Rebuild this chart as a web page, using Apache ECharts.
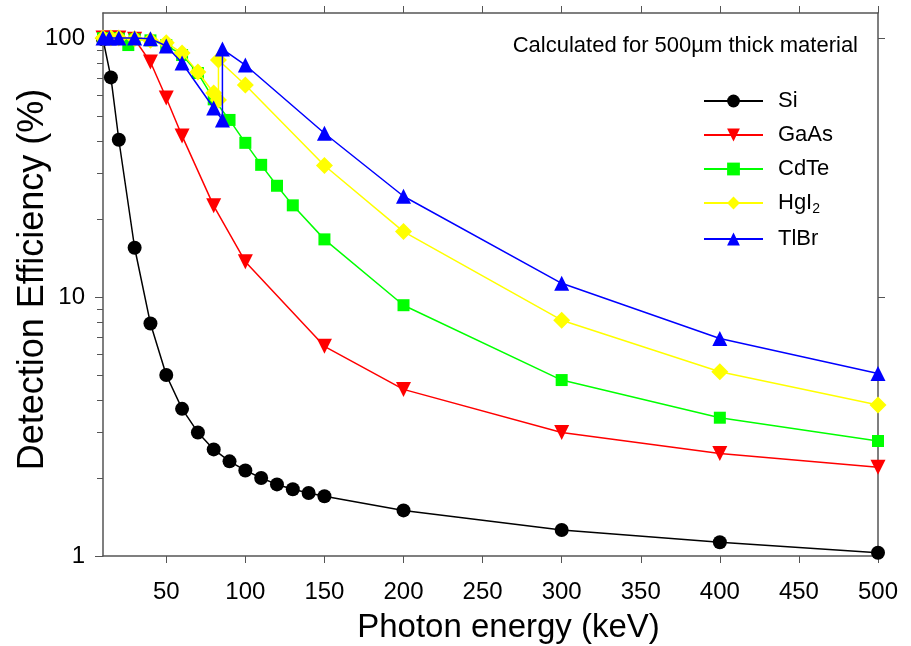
<!DOCTYPE html>
<html>
<head>
<meta charset="utf-8">
<script src="https://cdn.jsdelivr.net/npm/echarts@6/dist/echarts.min.js"></script>
<style>
  html, body { margin: 0; padding: 0; background: #ffffff; }
  #chart { width: 911px; height: 646px; }
</style>
</head>
<body>
<div id="chart"></div>
<script>
// ---- Data ----
const seriesNames = ['Si', 'GaAs', 'CdTe', 'HgI2', 'TlBr'];

const siX = [10, 15, 20, 30, 40, 50, 60, 70, 80, 90, 100, 110, 120, 130, 140, 150, 200, 300, 400, 500];
const siY = [99, 70.5, 40.5, 15.5, 7.9, 5.0, 3.7, 3.0, 2.58, 2.32, 2.14, 2.0, 1.89, 1.81, 1.75, 1.70, 1.50, 1.26, 1.13, 1.03];

const gaasX = [10, 15, 20, 30, 40, 50, 60, 80, 100, 150, 200, 300, 400, 500];
const gaasY = [100, 100, 100, 99, 80.8, 58.7, 41.9, 22.5, 13.7, 6.45, 4.40, 3.0, 2.49, 2.2];

const cdteX = [10, 15, 20, 26, 30, 40, 50, 60, 70, 80, 90, 100, 110, 120, 130, 150, 200, 300, 400, 500];
const cdteY = [100, 100, 99.5, 94, 99, 98, 94, 86, 73.3, 58, 48.3, 39.4, 32.4, 26.9, 22.6, 16.7, 9.3, 4.78, 3.42, 2.78];

const hgi2X = [10, 15, 20, 30, 40, 50, 60, 70, 80, 83, 83, 100, 150, 200, 300, 400, 500];
const hgi2Y = [100, 100, 100, 99.5, 98, 96, 87.5, 74, 61.4, 57.7, 82.3, 65.9, 32.2, 17.9, 8.14, 5.15, 3.83];

const tlbrX = [10, 14, 20, 30, 40, 50, 60, 80, 85.5, 85.5, 100, 150, 200, 300, 400, 500];
const tlbrY = [100, 100, 100, 100, 99.5, 93.2, 80.1, 53.7, 48.3, 90.7, 78.7, 42.9, 24.5, 11.3, 6.92, 5.07];

const xTickValues = [50, 100, 150, 200, 250, 300, 350, 400, 450, 500];
const yTickValues = [1, 10, 100];
const yMinorTickValues = [2, 3, 4, 5, 6, 7, 8, 9, 20, 30, 40, 50, 60, 70, 80, 90];

const annotation = 'Calculated for 500\u00b5m thick material';
const xTitle = 'Photon energy (keV)';
const yTitle = 'Detection Efficiency (%)';

// ---- Build chart ----
const FONT = '"Liberation Sans", Arial, sans-serif';
const AXIS_COLOR = '#555555';
const pairs = (xs, ys) => xs.map((x, i) => [x, ys[i]]);

const styles = [
  { color: '#000000', symbol: 'circle', size: 14 },
  { color: '#ff0000', symbol: 'triangle', size: 15, rotate: 180 },
  { color: '#00ff00', symbol: 'rect', size: 12 },
  { color: '#ffff00', symbol: 'diamond', size: 17 },
  { color: '#0000ff', symbol: 'triangle', size: 15 }
];
const dataSets = [pairs(siX, siY), pairs(gaasX, gaasY), pairs(cdteX, cdteY), pairs(hgi2X, hgi2Y), pairs(tlbrX, tlbrY)];

const chart = echarts.init(document.getElementById('chart'), null, { renderer: 'canvas' });

const grid = { left: 103, right: 33, top: 13, bottom: 90, containLabel: false, outerBoundsMode: 'none' };

const option = {
  backgroundColor: '#ffffff',
  animation: false,
  textStyle: { fontFamily: FONT },
  grid: grid,
  title: {
    text: annotation,
    right: 48, top: 30,
    textStyle: { fontFamily: FONT, fontSize: 22, fontWeight: 'normal', color: '#000' }
  },
  legend: {
    orient: 'vertical',
    left: 698, top: 85,
    itemWidth: 59, itemHeight: 16, itemGap: 12,
    data: seriesNames,
    textStyle: {
      fontFamily: FONT, fontSize: 22, color: '#000', padding: [0, 0, 0, 10],
      rich: {
        n: { fontFamily: FONT, fontSize: 22, color: '#000' },
        s: { fontFamily: FONT, fontSize: 14, color: '#000', padding: [12, 0, 0, 0] }
      }
    },
    formatter: function (name) {
      if (name === 'HgI2') return '{n|HgI}{s|2}';
      return name;
    }
  },
  xAxis: [
    {
      type: 'value', position: 'bottom', min: 10, max: 500,
      axisLine: { show: true, onZero: false, lineStyle: { color: AXIS_COLOR, width: 1.5 } },
      axisTick: { show: true, inside: false, length: 7, customValues: xTickValues, lineStyle: { color: AXIS_COLOR } },
      axisLabel: { show: true, customValues: xTickValues, margin: 24, fontSize: 24, color: '#000', fontFamily: FONT },
      splitLine: { show: false },
      name: xTitle, nameLocation: 'middle', nameGap: 55, nameMoveOverlap: false,
      nameTextStyle: { fontSize: 33, color: '#000', fontFamily: FONT, padding: [0, 0, 0, 36] }
    },
    {
      type: 'value', position: 'top', min: 10, max: 500,
      axisLine: { show: true, onZero: false, lineStyle: { color: AXIS_COLOR, width: 1.5 } },
      axisTick: { show: true, inside: false, length: 7, customValues: xTickValues, lineStyle: { color: AXIS_COLOR } },
      axisLabel: { show: false },
      splitLine: { show: false }
    }
  ],
  yAxis: [
    {
      type: 'log', logBase: 10, position: 'left', min: 1, max: 125,
      axisLine: { show: true, onZero: false, lineStyle: { color: AXIS_COLOR, width: 1.5 } },
      axisTick: { show: true, inside: false, length: 8, customValues: yTickValues, lineStyle: { color: AXIS_COLOR } },
      axisLabel: { show: true, customValues: yTickValues, margin: 18, fontSize: 24, color: '#000', fontFamily: FONT },
      splitLine: { show: false },
      minorTick: { show: false },
      name: yTitle, nameLocation: 'middle', nameGap: 52, nameRotate: 90, nameMoveOverlap: false,
      nameTextStyle: { fontSize: 36, color: '#000', fontFamily: FONT, padding: [0, 0, 0, 10] }
    },
    {
      type: 'log', logBase: 10, position: 'left', min: 1, max: 125,
      axisLine: { show: false },
      axisTick: { show: true, inside: false, length: 6, customValues: yMinorTickValues, lineStyle: { color: AXIS_COLOR } },
      axisLabel: { show: false },
      splitLine: { show: false }
    },
    {
      type: 'log', logBase: 10, position: 'right', min: 1, max: 125,
      axisLine: { show: true, onZero: false, lineStyle: { color: AXIS_COLOR, width: 1.5 } },
      axisTick: { show: true, inside: false, length: 7, customValues: [10, 100], lineStyle: { color: AXIS_COLOR } },
      axisLabel: { show: false },
      splitLine: { show: false }
    }
  ],
  series: seriesNames.map((name, i) => ({
    name: name,
    type: 'line',
    xAxisIndex: 0,
    yAxisIndex: 0,
    data: dataSets[i],
    symbol: styles[i].symbol,
    symbolSize: styles[i].size,
    symbolRotate: styles[i].rotate || 0,
    showAllSymbol: true,
    lineStyle: { color: styles[i].color, width: 1.5 },
    itemStyle: { color: styles[i].color, borderWidth: 0 },
    emphasis: { disabled: true },
    z: 2 + i
  }))
};

chart.setOption(option);
</script>
</body>
</html>
